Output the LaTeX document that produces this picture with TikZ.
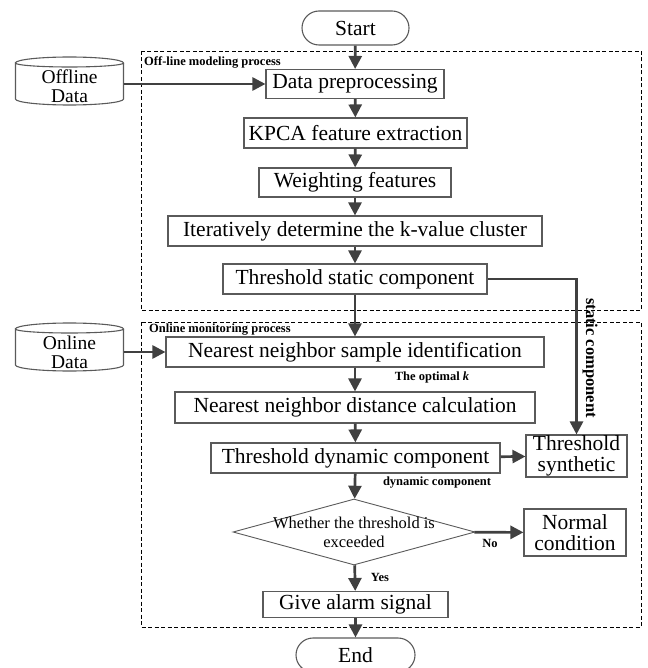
\documentclass[tikz,border=0pt]{standalone}
\usepackage{fontspec}
\setmainfont{Liberation Serif}
\usepackage{tikz}
\usetikzlibrary{calc,shapes.geometric,arrows.meta}

\definecolor{linegray}{HTML}{404040}
\definecolor{boxgray}{HTML}{5A5A5A}

\begin{document}
\begin{tikzpicture}[x=1pt, y=-1pt, font=\fontsize{21.5}{21}\selectfont]
  \useasboundingbox (0,0) rectangle (647,668);

  \tikzset{
    proc box/.style={draw=boxgray, line width=1.1pt, inner sep=0pt, minimum height=30pt, align=center},
    term box/.style={proc box, rounded corners=17pt, minimum height=34pt},
    drum node/.style={inner sep=0pt, minimum width=108pt, minimum height=36pt, align=center,
                      font=\fontsize{19.5}{19}\selectfont},
    decision node/.style={diamond, draw=boxgray, line width=0.9pt, inner sep=0pt,
                          minimum width=242pt, minimum height=66pt},
    decision text/.style={align=center, font=\fontsize{16.5}{19}\selectfont},
    note label/.style={font=\fontsize{12.5}{13}\selectfont\bfseries, inner sep=0pt},
    flow arrow/.style={draw=linegray, line width=2.7pt, -{Triangle[width=13pt,length=13pt]}},
    stage frame/.style={draw=black, line width=0.8pt, dash pattern=on 4pt off 2.5pt},
  }

  % drum outline round a plain node (corners 23 above, 13 below the text centre)
  \newcommand{\drawdrum}[1]{
    \draw[boxgray, line width=1.1pt]
      ($(#1.center)+(-54,-23)$) arc[start angle=180, end angle=0, x radius=54pt, y radius=6pt]
                                arc[start angle=0, end angle=-180, x radius=54pt, y radius=4pt]
      -- ($(#1.center)+(-54,13)$) arc[start angle=180, end angle=360, x radius=54pt, y radius=6pt]
      -- ($(#1.center)+(54,-23)$);
  }

  % stage frames
  \draw[stage frame] (141,51) rectangle (641,310);
  \draw[stage frame] (141,322) rectangle (641,627);
  \node[note label, anchor=west] (offlbl) at (144,62) {Off-line modeling process};
  \node[note label, anchor=west] (onlbl) at (149,330) {Online monitoring process};

  % off-line chain
  \node[term box, minimum width=107pt] (start) at (355.5,28) {Start};
  \node[proc box, minimum width=178pt, minimum height=29pt] (prep) at (355,84) {Data preprocessing};
  \node[proc box, minimum width=223pt] (kpca) at (355.5,133) {KPCA feature extraction};
  \node[proc box, minimum width=192pt, minimum height=29pt] (weight) at (355,182.5) {Weighting features};
  \node[proc box, minimum width=374pt] (iter) at (355,231) {Iteratively determine the k-value cluster};
  \node[proc box, minimum width=264pt] (stat) at (355,279) {Threshold static component};

  \node[drum node] (offdata) at (69.5,86) {Offline\\Data};
  \drawdrum{offdata}

  % online chain
  \node[proc box, minimum width=378pt] (nnsample) at (355,352) {Nearest neighbor sample identification};
  \node[proc box, minimum width=360pt, minimum height=31pt] (nndist) at (355,407.5) {Nearest neighbor distance calculation};
  \node[proc box, minimum width=289pt] (dyn) at (355.5,458) {Threshold dynamic component};
  \node[proc box, minimum width=101pt, minimum height=42pt] (synth) at (576.5,456) {Threshold\\synthetic};
  \node[decision node, label={[decision text]center:{Whether the threshold is\\exceeded}}] (check) at (354,532) {};
  \node[proc box, minimum width=102pt, minimum height=47pt] (normal) at (575,532.5) {Normal\\condition};
  \node[proc box, minimum width=185pt, minimum height=26pt] (alarm) at (355.5,604.5) {Give alarm signal};
  \node[term box, minimum width=119pt] (end) at (355.5,655) {End};

  \node[drum node] (ondata) at (69.5,352) {Online\\Data};
  \drawdrum{ondata}

  % connectors
  \draw[flow arrow] (start) -- (prep);
  \draw[flow arrow] (prep) -- (kpca);
  \draw[flow arrow] (kpca) -- (weight);
  \draw[flow arrow] (weight) -- (iter);
  \draw[flow arrow] (iter) -- (stat);
  \draw[flow arrow] (stat) -- (nnsample);
  \draw[flow arrow] (nnsample) -- (nndist);
  \draw[flow arrow] (nndist) -- (dyn);
  \draw[flow arrow] (dyn) -- (check);
  \draw[flow arrow] (check) -- (alarm);
  \draw[flow arrow] (alarm) -- (end);
  \draw[flow arrow] (dyn) -- (synth);
  \draw[flow arrow] (check) -- (normal);
  \draw[flow arrow] (offdata.east |- prep) -- (prep);
  \draw[flow arrow] (ondata.east |- nnsample) -- (nnsample);
  \draw[flow arrow] (stat.east) -| (synth.north);

  % connector labels
  \node[note label] (optk) at (432,377) {The optimal \textit{k}};
  \node[note label] (dynlbl) at (437,483) {dynamic component};
  \node[note label] (yeslbl) at (380,577) {Yes};
  \node[note label] (nolbl) at (490,543) {No};
  \node[note label, font=\fontsize{16.5}{17}\selectfont\bfseries, rotate=-90] (statlbl) at (590,358) {static component};
\end{tikzpicture}
\end{document}
